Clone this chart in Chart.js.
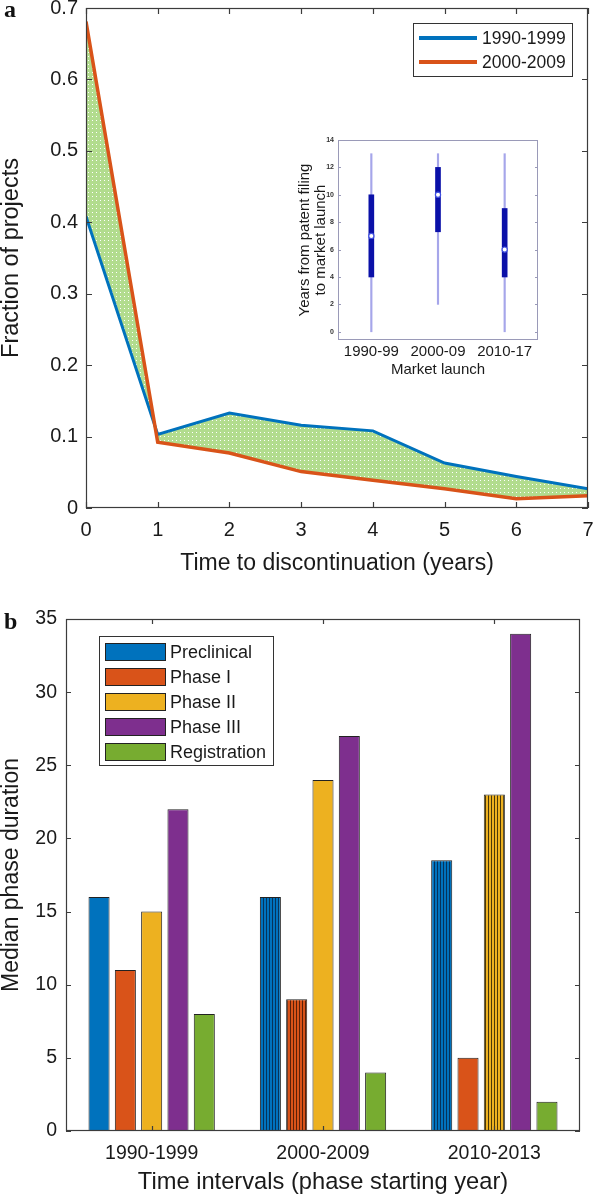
<!DOCTYPE html>
<html>
<head>
<meta charset="utf-8">
<script src="https://cdn.jsdelivr.net/npm/chart.js@4.4.1/dist/chart.umd.min.js"></script>
<style>
  body { margin: 0; background: #fff; width: 594px; height: 1196px; position: relative; overflow: hidden; }
  .box { position: absolute; }
  .tag { position: absolute; font: bold 24px "Liberation Serif", "Times New Roman", serif; line-height: 1; color: #111; }
</style>
</head>
<body>
<div class="box" style="left:0;top:0;width:594px;height:600px"><canvas id="chartA"></canvas></div>
<div class="box" style="left:290px;top:120px;width:260px;height:260px"><canvas id="inset"></canvas></div>
<div class="box" style="left:0;top:600px;width:594px;height:596px"><canvas id="chartB"></canvas></div>
<div class="tag" style="left:4px;top:-3px">a</div>
<div class="tag" style="left:4px;top:609px">b</div>
<script>
// ---- panel a: fraction of projects discontinued by year
const years = [0, 1, 2, 3, 4, 5, 6, 7];
const frac90s = [0.408, 0.103, 0.133, 0.116, 0.108, 0.063, 0.044, 0.027];
const frac00s = [0.681, 0.092, 0.077, 0.051, 0.039, 0.027, 0.013, 0.017];
const fracTicks = [0, 0.1, 0.2, 0.3, 0.4, 0.5, 0.6, 0.7];

// ---- inset: years from patent filing to market launch
const launchPeriods = ['1990-99', '2000-09', '2010-17'];
const whiskerLow = [0, 2, 0];
const whiskerHigh = [13, 13, 13];
const boxLow = [4, 7.3, 4];
const boxHigh = [10, 12, 9];
const medians = [7, 10, 6];
const insetTicks = [0, 2, 4, 6, 8, 10, 12, 14];

// ---- panel b: median phase duration
const intervals = ['1990-1999', '2000-2009', '2010-2013'];
const phases = ['Preclinical', 'Phase I', 'Phase II', 'Phase III', 'Registration'];
const preclinical = [16, 16, 18.5];
const phase1 = [11, 9, 5];
const phase2 = [15, 24, 23];
const phase3 = [22, 27, 34];
const registration = [8, 4, 2];
const durTicks = [0, 5, 10, 15, 20, 25, 30, 35];

// which bars are drawn hatched in the original
const hatched = {
  'Preclinical': [false, true, true],
  'Phase I': [false, true, false],
  'Phase II': [false, false, true]
};

const FONT = '"Liberation Sans", Arial, sans-serif';
const INK = '#1a1a1a';
const BLUE = '#0072BD', ORANGE = '#D95319';
const barColors = ['#0072BD', '#D95319', '#EDB120', '#7E2F8E', '#77AC30'];
const hatchLines = ['#06335a', '#5a2008', '#4a3808'];

function tile(w, h, draw) {
  const c = document.createElement('canvas');
  c.width = w; c.height = h;
  draw(c.getContext('2d'));
  return c.getContext('2d').createPattern(c, 'repeat');
}

// light green with white dots (the shaded gap between the two curves)
const dots = tile(4, 4, (g) => {
  g.fillStyle = '#b2dc8e'; g.fillRect(0, 0, 4, 4);
  g.fillStyle = '#ffffff'; g.fillRect(0, 0, 1, 1);
});

function hatch(base, line) {
  return tile(3, 4, (g) => {
    g.fillStyle = base; g.fillRect(0, 0, 3, 4);
    g.fillStyle = line; g.fillRect(2, 0, 1, 4);
  });
}

// box around the plot area with inward ticks (matlab style)
const frame = {
  id: 'frame',
  afterDraw(chart, args, o) {
    const {ctx, chartArea: {left, right, top, bottom}} = chart;
    const x = chart.scales.x, y = chart.scales.y;
    const len = o.len || 5;
    ctx.save();
    ctx.strokeStyle = o.color || '#333';
    ctx.lineWidth = o.width || 1;
    ctx.strokeRect(left + 0.5, top + 0.5, right - left - 1, bottom - top - 1);
    ctx.beginPath();
    if (o.xTicks !== false) {
      x.ticks.forEach((t, i) => {
        const px = Math.round(x.getPixelForTick(i)) + 0.5;
        ctx.moveTo(px, bottom); ctx.lineTo(px, bottom - len);
        ctx.moveTo(px, top); ctx.lineTo(px, top + len);
      });
    }
    y.ticks.forEach((t, i) => {
      const py = Math.round(y.getPixelForTick(i)) + 0.5;
      ctx.moveTo(left, py); ctx.lineTo(left + len, py);
      ctx.moveTo(right, py); ctx.lineTo(right - len, py);
    });
    ctx.stroke();
    ctx.restore();
  }
};

// legend boxes drawn like the original (framed, inside the axes)
const boxLegend = {
  id: 'boxLegend',
  afterDraw(chart, args, o) {
    if (!o.rect) return;
    const {ctx} = chart;
    const [bx, by, bw, bh] = o.rect;
    ctx.save();
    ctx.fillStyle = '#fff';
    ctx.fillRect(bx, by, bw, bh);
    ctx.strokeStyle = '#333';
    ctx.lineWidth = 1;
    ctx.strokeRect(bx + 0.5, by + 0.5, bw, bh);
    ctx.font = o.font;
    ctx.textBaseline = 'middle';
    ctx.fillStyle = INK;
    chart.data.datasets.forEach((ds, i) => {
      const cy = by + o.first + i * o.step;
      if (o.kind === 'line') {
        ctx.strokeStyle = ds.borderColor;
        ctx.lineWidth = 4;
        ctx.beginPath(); ctx.moveTo(bx + 6, cy); ctx.lineTo(bx + 64, cy); ctx.stroke();
      } else {
        ctx.fillStyle = barColors[i];
        ctx.fillRect(bx + 6, cy - 9, 61, 18);
        ctx.strokeStyle = '#222'; ctx.lineWidth = 1;
        ctx.strokeRect(bx + 6.5, cy - 8.5, 60, 17);
      }
      ctx.fillStyle = INK;
      ctx.fillText(ds.label, bx + o.textX, cy + 1);
    });
    ctx.restore();
  }
};

function fixWidth(w) {
  return (s) => { s.width = w; s.paddingTop = 0; s.paddingBottom = 0; };
}
function fixHeight(h) {
  return (s) => { s.height = h; s.paddingLeft = 0; s.paddingRight = 0; };
}
function setTicks(list) {
  return (s) => { s.ticks = list.map((v) => ({value: v})); };
}

// ---------- panel a
new Chart(document.getElementById('chartA'), {
  type: 'line',
  data: {
    datasets: [
      {
        label: '1990-1999',
        data: years.map((x, i) => ({x, y: frac90s[i]})),
        borderColor: BLUE, borderWidth: 3, pointRadius: 0, fill: false, order: 1
      },
      {
        label: '2000-2009',
        data: years.map((x, i) => ({x, y: frac00s[i]})),
        borderColor: ORANGE, borderWidth: 3.5, pointRadius: 0,
        fill: {target: 0}, backgroundColor: dots, order: 0
      }
    ]
  },
  options: {
    responsive: true, maintainAspectRatio: false, animation: false,
    layout: {autoPadding: false, padding: {top: 8, right: 6, left: 0, bottom: 0}},
    plugins: {
      legend: {display: false}, tooltip: {enabled: false},
      filler: {drawTime: 'beforeDatasetsDraw'},
      frame: {color: '#3c3c3c', width: 1.2, len: 6},
      boxLegend: {kind: 'line', rect: [413, 23, 159, 53], first: 15, step: 24, textX: 69, font: '17.5px ' + FONT}
    },
    scales: {
      x: {
        type: 'linear', min: 0, max: 7,
        afterBuildTicks: setTicks(years),
        afterFit: fixHeight(92),
        grid: {display: false, drawTicks: false},
        border: {display: false},
        ticks: {color: INK, font: {family: FONT, size: 20}, padding: 10, callback: (v) => String(v)},
        title: {display: true, text: 'Time to discontinuation (years)', color: INK,
          font: {family: FONT, size: 23, lineHeight: 1.2}, padding: {bottom: 23}}
      },
      y: {
        min: 0, max: 0.7,
        afterBuildTicks: setTicks(fracTicks),
        afterFit: fixWidth(86),
        grid: {display: false, drawTicks: false},
        border: {display: false},
        ticks: {color: INK, font: {family: FONT, size: 20}, padding: 8,
          callback: (v) => (v === 0 ? '0' : v.toFixed(1))},
        title: {display: true, text: 'Fraction of projects', color: INK,
          font: {family: FONT, size: 23.5, lineHeight: 1}, padding: {top: 0}}
      }
    }
  },
  plugins: [frame, boxLegend]
});

// ---------- inset box plot
new Chart(document.getElementById('inset'), {
  type: 'bar',
  data: {
    labels: launchPeriods,
    datasets: [
      {type: 'line', label: 'median', data: medians, showLine: false,
        pointRadius: 2.6, pointBackgroundColor: '#fff', pointBorderColor: '#4050e0', pointBorderWidth: 1.2},
      {label: 'IQR', data: boxLow.map((v, i) => [v, boxHigh[i]]), grouped: false,
        barThickness: 5, backgroundColor: '#0a10a8'},
      {label: 'range', data: whiskerLow.map((v, i) => [v, whiskerHigh[i]]), grouped: false,
        barThickness: 1.5, backgroundColor: '#a6a6ea'}
    ]
  },
  options: {
    responsive: true, maintainAspectRatio: false, animation: false,
    layout: {autoPadding: false, padding: {top: 20, right: 12, left: 0, bottom: 0}},
    plugins: {
      legend: {display: false}, tooltip: {enabled: false},
      frame: {color: '#9a9ab8', width: 1, len: 3, xTicks: false}
    },
    scales: {
      x: {
        afterFit: fixHeight(40),
        grid: {display: false, drawTicks: false},
        border: {display: false},
        ticks: {color: INK, font: {family: FONT, size: 15}, padding: 3, maxRotation: 0},
        title: {display: true, text: 'Market launch', color: INK,
          font: {family: FONT, size: 15, lineHeight: 1.05}, padding: {bottom: 2}}
      },
      y: {
        min: -0.6, max: 14,
        afterBuildTicks: setTicks(insetTicks),
        afterFit: fixWidth(48),
        grid: {display: false, drawTicks: false},
        border: {display: false},
        ticks: {color: '#333', font: {family: FONT, size: 7, weight: 'bold'}, padding: 4},
        title: {display: true, text: ['Years from patent filing', 'to market launch'], color: INK,
          font: {family: FONT, size: 15, lineHeight: 1.07}, padding: {top: 7}}
      }
    }
  },
  plugins: [frame]
});

// ---------- panel b
const series = [preclinical, phase1, phase2, phase3, registration];
new Chart(document.getElementById('chartB'), {
  type: 'bar',
  data: {
    labels: intervals,
    datasets: phases.map((name, k) => ({
      label: name,
      data: series[k],
      backgroundColor: series[k].map((v, i) =>
        hatched[name] && hatched[name][i] ? hatch(barColors[k], hatchLines[k]) : barColors[k]),
      borderColor: '#222', borderWidth: 1, borderSkipped: false,
      barPercentage: 0.8, categoryPercentage: 0.768
    }))
  },
  options: {
    responsive: true, maintainAspectRatio: false, animation: false,
    layout: {autoPadding: false, padding: {top: 19, right: 14, left: 0, bottom: 0}},
    plugins: {
      legend: {display: false}, tooltip: {enabled: false},
      frame: {color: '#3c3c3c', width: 1.2, len: 5},
      boxLegend: {kind: 'bar', rect: [99, 36, 174, 129], first: 16, step: 25, textX: 71, font: '18px ' + FONT}
    },
    scales: {
      x: {
        afterFit: fixHeight(65),
        grid: {display: false, drawTicks: false},
        border: {display: false},
        ticks: {color: INK, font: {family: FONT, size: 19.5}, padding: 11, maxRotation: 0},
        title: {display: true, text: 'Time intervals (phase starting year)', color: INK,
          font: {family: FONT, size: 23.7, lineHeight: 1}, padding: {bottom: 2}}
      },
      y: {
        min: 0, max: 35,
        afterBuildTicks: setTicks(durTicks),
        afterFit: fixWidth(66),
        grid: {display: false, drawTicks: false},
        border: {display: false},
        ticks: {color: INK, font: {family: FONT, size: 19.5}, padding: 9},
        title: {display: true, text: 'Median phase duration', color: INK,
          font: {family: FONT, size: 23, lineHeight: 1}, padding: {top: 0}}
      }
    }
  },
  plugins: [frame, boxLegend]
});
</script>
</body>
</html>
